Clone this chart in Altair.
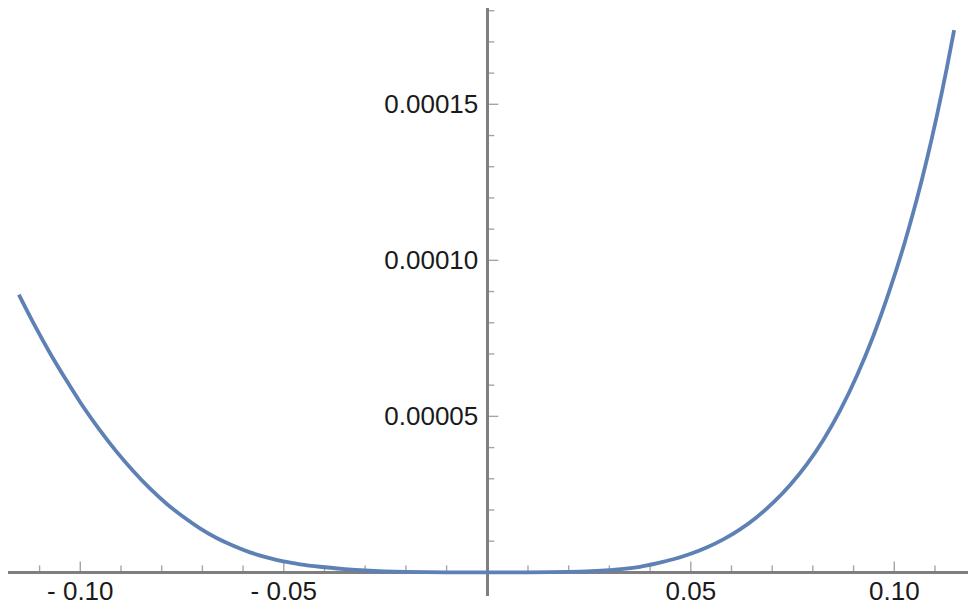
import altair as alt
import pandas as pd

# curve (y values in plain units)
xs = [-0.1151, -0.1116, -0.1075, -0.1033, -0.1001, -0.0952, -0.0911, -0.0870,
      -0.0829, -0.0788, -0.0747, -0.0706, -0.0665, -0.0624, -0.0583, -0.0542,
      -0.0501, -0.0460, -0.0411, -0.0350, -0.0300, -0.0200, -0.0100, 0.0,
      0.0100, 0.0200, 0.0300, 0.0375, 0.0416, 0.0457, 0.0498, 0.0539, 0.0580,
      0.0621, 0.0662, 0.0703, 0.0744, 0.0785, 0.0826, 0.0867, 0.0908, 0.0948,
      0.0989, 0.1026, 0.1055, 0.1080, 0.1104, 0.1129, 0.1147]
ys = [8.90e-5, 8.01e-5, 7.04e-5, 6.13e-5, 5.47e-5, 4.56e-5, 3.87e-5, 3.25e-5,
      2.69e-5, 2.20e-5, 1.78e-5, 1.41e-5, 1.10e-5, 8.5e-6, 6.4e-6, 4.8e-6,
      3.5e-6, 2.6e-6, 1.8e-6, 1.07e-6, 6.0e-7, 1.3e-7, 1.0e-8, 0.0,
      1.0e-8, 1.6e-7, 7.5e-7, 1.8e-6, 2.9e-6, 4.2e-6, 5.9e-6, 8.0e-6, 1.06e-5,
      1.38e-5, 1.77e-5, 2.24e-5, 2.80e-5, 3.46e-5, 4.25e-5, 5.19e-5, 6.30e-5, 7.56e-5,
      9.06e-5, 1.059e-4, 1.194e-4, 1.323e-4, 1.460e-4, 1.616e-4, 1.738e-4]

x_major = [-0.10, -0.05, 0.05, 0.10]
x_major_labels = ["- 0.10", "- 0.05", "0.05", "0.10"]
x_minor = [-0.11, -0.09, -0.08, -0.07, -0.06, -0.04, -0.03, -0.02, -0.01,
           0.01, 0.02, 0.03, 0.04, 0.06, 0.07, 0.08, 0.09, 0.11]
y_major = [5e-5, 1e-4, 1.5e-4]
y_major_labels = ["0.00005", "0.00010", "0.00015"]
y_minor = [1e-5, 2e-5, 3e-5, 4e-5, 6e-5, 7e-5, 8e-5, 9e-5,
           1.1e-4, 1.2e-4, 1.3e-4, 1.4e-4, 1.6e-4, 1.7e-4, 1.8e-4]

X_DOM = [-0.11776, 0.11811]
Y_DOM = [-0.757e-5, 1.8087e-4]
AXIS = "#7f7f7f"
FONT = "Liberation Sans"

xsc = alt.Scale(domain=X_DOM, nice=False, zero=False)
ysc = alt.Scale(domain=Y_DOM, nice=False, zero=False)

curve = pd.DataFrame({"x": xs, "y": ys})
xmaj = pd.DataFrame({"v": x_major, "lab": x_major_labels})
xmin = pd.DataFrame({"v": x_minor})
ymaj = pd.DataFrame({"v": y_major, "lab": y_major_labels})
ymin = pd.DataFrame({"v": y_minor})

base_x = alt.X("v:Q", scale=xsc, axis=None)
base_y = alt.Y("v:Q", scale=ysc, axis=None)
y0 = alt.Y(datum=0, type="quantitative", scale=ysc, axis=None)
x0 = alt.X(datum=0, type="quantitative", scale=xsc, axis=None)

x_axis = alt.Chart(curve).mark_rule(color=AXIS, strokeWidth=1.6).encode(y=y0)
y_axis = alt.Chart(curve).mark_rule(color=AXIS, strokeWidth=1.6).encode(x=x0)

xt_major = alt.Chart(xmaj).mark_tick(
    orient="vertical", size=11, thickness=1.4, yOffset=-5.5, color=AXIS
).encode(x=base_x, y=y0)
xt_minor = alt.Chart(xmin).mark_tick(
    orient="vertical", size=7, thickness=1.4, yOffset=-3.5, color=AXIS
).encode(x=base_x, y=y0)
yt_major = alt.Chart(ymaj).mark_tick(
    orient="horizontal", size=11, thickness=1.4, xOffset=5.5, color=AXIS
).encode(y=base_y, x=x0)
yt_minor = alt.Chart(ymin).mark_tick(
    orient="horizontal", size=7, thickness=1.4, xOffset=3.5, color=AXIS
).encode(y=base_y, x=x0)

x_labels = alt.Chart(xmaj).mark_text(
    font=FONT, fontSize=26, color="#1a1a1a", baseline="alphabetic", align="center", dy=28
).encode(x=base_x, y=y0, text="lab:N")
y_labels = alt.Chart(ymaj).mark_text(
    font=FONT, fontSize=26, color="#1a1a1a", baseline="middle", align="right", dx=-9, dy=1
).encode(y=base_y, x=x0, text="lab:N")

line = alt.Chart(curve).mark_line(
    color="#5E81B5", strokeWidth=3.8, interpolate="monotone"
).encode(
    x=alt.X("x:Q", scale=xsc, axis=None),
    y=alt.Y("y:Q", scale=ysc, axis=None),
)

chart = alt.layer(
    x_axis, y_axis, xt_minor, xt_major, yt_minor, yt_major, x_labels, y_labels, line
).properties(
    width=960,
    height=588,
    autosize=alt.AutoSizeParams(type="none"),
    padding={"left": 0, "top": 0, "right": 0, "bottom": 10},
).configure_view(stroke=None)

chart.save("out.html", embed_options={"renderer": "svg", "actions": False})
